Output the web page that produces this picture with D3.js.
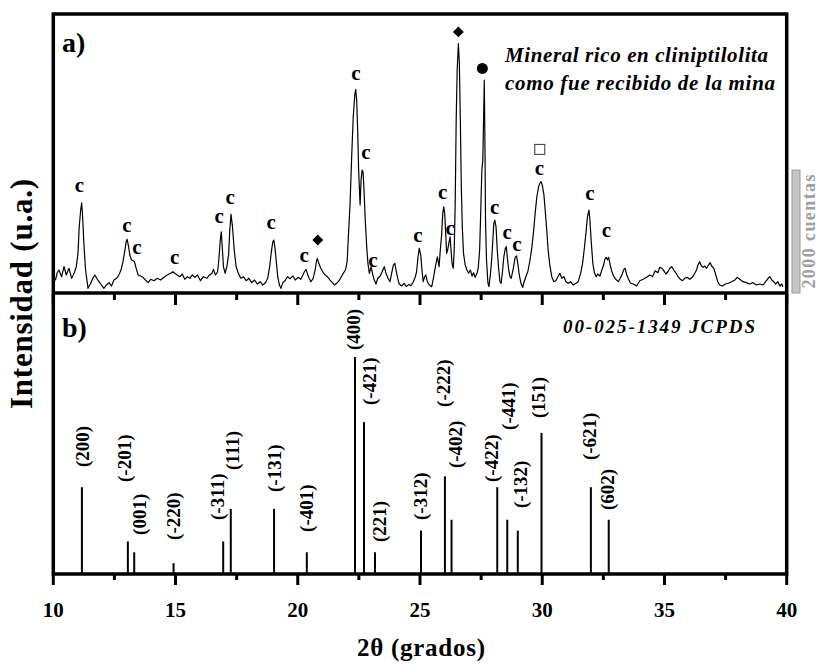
<!DOCTYPE html>
<html>
<head>
<meta charset="utf-8">
<script src="https://cdn.jsdelivr.net/npm/d3@7"></script>
<style>
  body { margin: 0; background: #fff; }
</style>
</head>
<body>
<div id="chart"></div>
<script>
'use strict'
var width = 818;
var height = 664;

// a) measured pattern, [2theta, counts]
var scan = [
  [10.05,240],[10.09,211],[10.16,330],[10.23,374],[10.34,265],[10.44,428],[10.53,293],[10.64,402],[10.75,239],
  [10.85,320],[10.94,428],[11.01,645],[11.06,1078],[11.12,1350],[11.16,1468],[11.20,1241],[11.25,808],
  [11.32,374],[11.42,76],[11.53,158],[11.62,239],[11.70,293],[11.80,223],[11.87,184],[11.97,130],[12.07,76],
  [12.17,130],[12.28,168],[12.38,114],[12.48,211],[12.59,239],[12.68,293],[12.77,374],[12.85,509],[12.93,699],
  [12.98,834],[13.02,873],[13.08,753],[13.13,618],[13.20,537],[13.27,525],[13.32,509],[13.39,402],[13.47,293],
  [13.57,276],[13.67,255],[13.77,211],[13.88,168],[13.98,223],[14.12,200],[14.25,239],[14.39,211],[14.52,255],
  [14.66,293],[14.80,320],[14.89,346],[14.97,320],[15.07,293],[15.18,265],[15.27,309],[15.38,223],[15.48,265],
  [15.59,239],[15.68,293],[15.79,255],[15.90,293],[16.02,200],[16.14,265],[16.28,239],[16.39,293],[16.49,320],
  [16.55,385],[16.63,293],[16.72,346],[16.77,537],[16.83,862],[16.87,997],[16.91,753],[16.96,428],[17.03,320],
  [17.10,428],[17.17,618],[17.22,1024],[17.27,1280],[17.33,1078],[17.40,699],[17.48,428],[17.57,320],[17.67,239],
  [17.78,265],[17.89,200],[18.00,239],[18.12,168],[18.23,211],[18.35,146],[18.46,184],[18.57,130],[18.68,168],
  [18.77,239],[18.85,428],[18.92,672],[18.98,834],[19.02,862],[19.07,726],[19.13,483],[19.18,265],[19.25,130],
  [19.31,76],[19.39,168],[19.48,200],[19.58,265],[19.69,233],[19.80,276],[19.90,211],[20.01,255],[20.12,223],
  [20.21,293],[20.27,346],[20.34,385],[20.39,320],[20.46,239],[20.54,184],[20.63,239],[20.71,374],[20.76,509],
  [20.80,564],[20.86,483],[20.94,402],[21.02,346],[21.12,293],[21.21,265],[21.32,211],[21.42,168],[21.50,130],
  [21.59,158],[21.69,200],[21.78,265],[21.86,320],[21.95,374],[22.02,509],[22.07,915],[22.14,1458],[22.21,2272],
  [22.27,2867],[22.33,3219],[22.37,3312],[22.41,3138],[22.45,2650],[22.49,2000],[22.55,1431],[22.59,1837],
  [22.63,2000],[22.67,1972],[22.71,1675],[22.76,1187],[22.82,753],[22.87,483],[22.93,320],[23.00,428],[23.07,293],
  [23.13,211],[23.20,146],[23.27,239],[23.37,276],[23.45,346],[23.54,428],[23.61,320],[23.69,239],[23.77,184],
  [23.84,320],[23.91,455],[23.97,483],[24.02,374],[24.09,239],[24.15,146],[24.25,114],[24.35,158],[24.44,103],
  [24.54,141],[24.63,119],[24.73,184],[24.81,265],[24.86,346],[24.92,590],[24.97,726],[25.03,618],[25.08,374],
  [25.13,184],[25.19,265],[25.24,293],[25.30,184],[25.38,130],[25.48,103],[25.56,265],[25.63,428],[25.71,590],
  [25.78,428],[25.83,699],[25.89,971],[25.93,1296],[25.97,1403],[26.01,1296],[26.05,971],[26.09,645],[26.13,699],
  [26.18,808],[26.23,915],[26.27,699],[26.31,483],[26.36,402],[26.40,699],[26.44,1458],[26.48,2813],[26.52,3626],
  [26.57,4060],[26.61,3735],[26.65,2813],[26.69,1728],[26.73,1078],[26.78,645],[26.85,455],[26.92,374],[26.99,320],
  [27.06,374],[27.13,276],[27.19,330],[27.26,255],[27.33,320],[27.38,402],[27.44,699],[27.49,1403],[27.53,2000],
  [27.57,2163],[27.60,2813],[27.63,3463],[27.66,2272],[27.68,1187],[27.72,537],[27.78,158],[27.82,103],[27.87,265],
  [27.93,537],[27.98,862],[28.02,1133],[28.06,1187],[28.11,1078],[28.16,699],[28.21,428],[28.27,184],[28.32,158],
  [28.38,374],[28.43,590],[28.49,726],[28.53,753],[28.57,590],[28.62,402],[28.68,265],[28.73,239],[28.79,346],
  [28.84,455],[28.89,580],[28.95,602],[29.01,455],[29.06,293],[29.13,158],[29.20,92],[29.26,184],[29.33,265],
  [29.41,346],[29.50,537],[29.58,753],[29.65,1024],[29.71,1296],[29.78,1566],[29.85,1728],[29.90,1784],[29.96,1810],
  [30.01,1740],[30.07,1593],[30.12,1350],[30.18,1052],[30.24,699],[30.31,455],[30.39,265],[30.48,184],[30.56,200],
  [30.64,265],[30.72,320],[30.80,239],[30.89,265],[30.97,184],[31.06,158],[31.16,184],[31.27,130],[31.38,158],
  [31.47,184],[31.57,320],[31.65,483],[31.73,753],[31.80,1024],[31.85,1241],[31.91,1350],[31.95,1187],[32.00,862],
  [32.07,483],[32.14,320],[32.21,265],[32.27,309],[32.36,276],[32.44,374],[32.51,455],[32.56,548],[32.62,580],
  [32.67,537],[32.72,580],[32.78,455],[32.85,346],[32.93,265],[33.01,223],[33.11,184],[33.19,239],[33.27,309],
  [33.34,385],[33.39,402],[33.46,293],[33.53,223],[33.61,158],[33.72,146],[33.86,114],[33.99,200],[34.13,223],
  [34.27,255],[34.40,293],[34.51,265],[34.62,363],[34.73,330],[34.81,418],[34.89,402],[34.97,363],[35.06,309],
  [35.14,346],[35.22,402],[35.30,428],[35.38,374],[35.46,330],[35.56,265],[35.65,223],[35.74,200],[35.83,239],
  [35.93,255],[36.03,223],[36.14,255],[36.24,320],[36.31,374],[36.37,455],[36.44,509],[36.51,439],[36.58,418],
  [36.65,439],[36.72,402],[36.80,455],[36.87,493],[36.93,439],[37.02,402],[37.10,293],[37.18,184],[37.26,130],
  [37.37,114],[37.49,146],[37.62,158],[37.74,184],[37.88,211],[37.97,255],[38.08,223],[38.21,184],[38.35,168],
  [38.49,146],[38.62,168],[38.76,130],[38.90,146],[39.03,130],[39.14,184],[39.24,239],[39.31,265],[39.39,211],
  [39.47,184],[39.55,146],[39.64,184],[39.72,114],[39.80,146],[39.85,103]
];

// phase marks over the peaks: 2theta, counts, symbol
var markTheta  = [11.07,13.01,13.42,14.96,16.78,17.23,18.91,20.26,20.82,22.38,22.79,23.07,24.91,25.93,26.23,26.57,27.55,28.05,28.57,28.96,29.90,29.88,31.95,32.63];
var markCounts = [1756,1106,748,585,1252,1561,1159,618,862,3582,2298,537,943,1647,1052,4249,3654,1403,987,792,2337,2037,1621,1024];
var markSymbol = ['c','c','c','c','c','c','c','c','diamond','c','c','c','c','c','c','diamond','circle','c','c','c','square','c','c','c'];

// b) JCPDS 00-025-1349 reference lines
var hkl = ['(200)','(-201)','(001)','(-220)','(-311)','(111)','(-131)','(-401)','(400)','(-421)','(221)','(-312)','(-222)','(-402)','(-422)','(-441)','(-132)','(151)','(-621)','(602)'];
var stickTheta = [11.17,13.05,13.31,14.92,16.95,17.26,19.03,20.37,22.34,22.71,23.16,25.04,26.02,26.29,28.16,28.57,29.00,29.97,31.99,32.72];
var stickInt   = [40,15,10,5,15,30,30,10,100,70,10,20,45,25,40,25,20,65,40,25];
// where each hkl label starts (2theta, relative intensity)
var labelTheta = [11.21,12.93,13.54,14.92,16.73,17.33,19.05,20.35,22.27,22.94,23.35,25.01,25.95,26.44,27.91,28.61,29.10,29.83,31.94,32.66];
var labelInt   = [49.3,42.4,18.0,15.7,24.9,47.9,37.8,19.4,103.2,77.9,14.7,24.9,77.0,48.8,42.4,66.4,30.4,71.9,52.5,29.5];

var xTicks = [10,15,20,25,30,35,40];
var xMinor = [12.5,17.5,22.5,27.5,32.5,37.5];

var svg = d3.select('#chart').append('svg')
	.attr('width', width)
	.attr('height', height)
	.style('font-family', '"Liberation Serif"')
	.style('font-weight', 'bold');

var x = d3.scaleLinear().domain([10, 40]).range([53.3, 786.7]);
var yTop = d3.scaleLinear().domain([0, 4540]).range([293, 14]);
var yBot = d3.scaleLinear().domain([0, 100]).range([574, 357]);

// curve
var line = d3.line()
	.x(function(d){ return x(d[0]); })
	.y(function(d){ return yTop(d[1]); });

svg.append('path')
	.datum(scan)
	.attr('d', line)
	.attr('fill', 'none')
	.attr('stroke', '#000')
	.attr('stroke-width', 1.2)
	.attr('stroke-linejoin', 'round');

// marks
var marks = svg.append('g');
markTheta.forEach(function(t, i){
	var cx = x(t), cy = yTop(markCounts[i]);
	var s = markSymbol[i];
	if (s === 'c') {
		marks.append('text')
			.attr('x', cx).attr('y', cy)
			.attr('text-anchor', 'middle')
			.attr('dominant-baseline', 'central')
			.style('font-size', '21px')
			.text('c');
	} else if (s === 'diamond') {
		marks.append('path')
			.attr('d', d3.symbol().type(d3.symbolDiamond2).size(75)())
			.attr('transform', 'translate(' + cx + ',' + cy + ')')
			.attr('fill', '#000');
	} else if (s === 'circle') {
		marks.append('circle').attr('cx', cx).attr('cy', cy).attr('r', 5.5).attr('fill', '#000');
	} else if (s === 'square') {
		marks.append('rect').attr('x', cx - 5).attr('y', cy - 5).attr('width', 10).attr('height', 10)
			.attr('fill', '#fff').attr('stroke', '#333').attr('stroke-width', 1);
	}
});

// sticks
svg.append('g')
	.selectAll('line')
	.data(stickTheta)
	.enter()
	.append('line')
		.attr('x1', function(d){ return x(d); })
		.attr('x2', function(d){ return x(d); })
		.attr('y1', yBot(0))
		.attr('y2', function(d, i){ return yBot(stickInt[i]); })
		.attr('stroke', '#000')
		.attr('stroke-width', 2);

svg.append('g')
	.selectAll('text')
	.data(hkl)
	.enter()
	.append('text')
		.attr('transform', function(d, i){
			return 'translate(' + x(labelTheta[i]) + ',' + yBot(labelInt[i]) + ') rotate(-90)';
		})
		.attr('dominant-baseline', 'central')
		.style('font-size', '19px')
		.text(function(d){ return d; });

// frames
svg.append('rect')
	.attr('x', x(10)).attr('y', yTop.range()[1])
	.attr('width', x(40) - x(10)).attr('height', yBot(0) - yTop.range()[1])
	.attr('fill', 'none').attr('stroke', '#000').attr('stroke-width', 3.5);
svg.append('line')
	.attr('x1', x(10)).attr('x2', x(40))
	.attr('y1', yTop(0)).attr('y2', yTop(0))
	.attr('stroke', '#000').attr('stroke-width', 3.5);

// ticks
var ticks = svg.append('g').attr('stroke', '#000').attr('stroke-width', 3);
xTicks.forEach(function(t){
	ticks.append('line').attr('x1', x(t)).attr('x2', x(t)).attr('y1', yBot(0)).attr('y2', yBot(0) + 11);
	ticks.append('line').attr('x1', x(t)).attr('x2', x(t)).attr('y1', yTop(0)).attr('y2', yTop(0) + 12);
});
xMinor.forEach(function(t){
	ticks.append('line').attr('x1', x(t)).attr('x2', x(t)).attr('y1', yBot(0)).attr('y2', yBot(0) + 6);
	ticks.append('line').attr('x1', x(t)).attr('x2', x(t)).attr('y1', yTop(0)).attr('y2', yTop(0) + 7);
});

svg.append('g')
	.selectAll('text')
	.data(xTicks)
	.enter()
	.append('text')
		.attr('x', function(d){ return x(d); })
		.attr('y', 617)
		.attr('text-anchor', 'middle')
		.style('font-size', '21px')
		.text(function(d){ return d; });

// titles
svg.append('text')
	.attr('x', 421).attr('y', 656)
	.attr('text-anchor', 'middle')
	.attr('textLength', 128)
	.style('font-size', '25px')
	.text('2θ (grados)');

svg.append('text')
	.attr('transform', 'translate(32,294) rotate(-90)')
	.attr('text-anchor', 'middle')
	.attr('textLength', 230)
	.style('font-size', '31px')
	.text('Intensidad (u.a.)');

svg.append('text').attr('x', 62).attr('y', 52).style('font-size', '28px').text('a)');
svg.append('text').attr('x', 62).attr('y', 337).style('font-size', '28px').text('b)');

svg.append('text')
	.attr('x', 505).attr('y', 62)
	.attr('textLength', 263)
	.style('font-size', '21px').style('font-style', 'italic')
	.text('Mineral rico en cliniptilolita');
svg.append('text')
	.attr('x', 505).attr('y', 90)
	.attr('textLength', 270)
	.style('font-size', '21px').style('font-style', 'italic')
	.text('como fue recibido de la mina');

svg.append('text')
	.attr('x', 563).attr('y', 333)
	.attr('textLength', 192)
	.style('font-size', '19px').style('font-style', 'italic')
	.text('00-025-1349 JCPDS');

// 2000 counts scale bar
svg.append('rect')
	.attr('x', 792).attr('y', yTop(2000))
	.attr('width', 8).attr('height', yTop(0) - yTop(2000))
	.attr('fill', '#c4c4c4').attr('stroke', '#999').attr('stroke-width', 1);
svg.append('text')
	.attr('transform', 'translate(815,' + yTop(1000) + ') rotate(-90)')
	.attr('text-anchor', 'middle')
	.attr('textLength', 114)
	.style('font-size', '18px')
	.style('fill', '#a0a0a0')
	.text('2000 cuentas');
</script>
</body>
</html>
